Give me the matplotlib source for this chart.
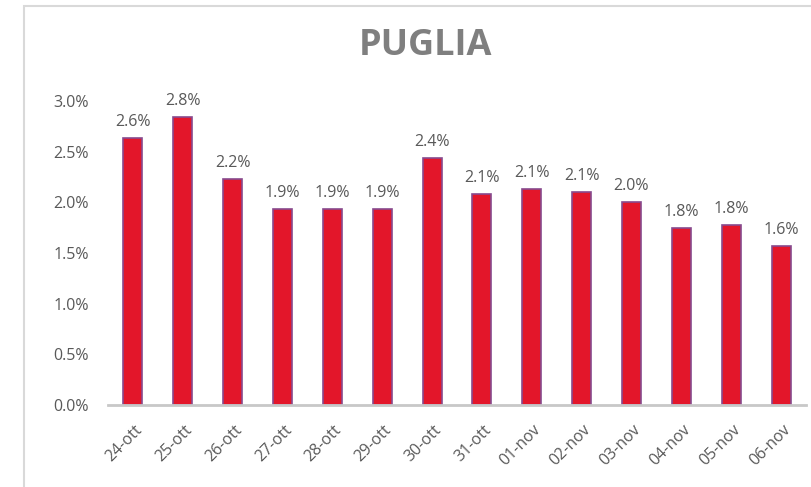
import numpy as np
import matplotlib
matplotlib.use("Agg")
import matplotlib.pyplot as plt
import matplotlib.transforms as mtransforms
from matplotlib.patches import Rectangle

days = ["24-ott", "25-ott", "26-ott", "27-ott", "28-ott", "29-ott", "30-ott",
        "31-ott", "01-nov", "02-nov", "03-nov", "04-nov", "05-nov", "06-nov"]
values = [2.63, 2.84, 2.23, 1.93, 1.93, 1.93, 2.44,
          2.08, 2.13, 2.10, 2.00, 1.75, 1.78, 1.57]

plt.rcParams["font.family"] = ["Open Sans", "DejaVu Sans"]
grey = "#595959"

fig = plt.figure(figsize=(8.11, 4.87), dpi=100)
ax = fig.add_axes([108 / 811, (487 - 405) / 487, (806 - 108) / 811, 304 / 487])

x = np.arange(len(days))
ax.bar(x, values, width=0.38, color="#e3162a", edgecolor="#874a8e", linewidth=1.2)
for xi, v in zip(x, values):
    ax.text(xi, v + 0.08, f"{v:.1f}%", ha="center", va="bottom", fontsize=11.5,
            color=grey, clip_on=False)

ax.set_ylim(0, 3.0)
ax.set_xlim(-0.5, len(days) - 0.5)
yt = np.arange(0, 3.01, 0.5)
ax.set_yticks(yt)
ax.set_yticklabels([f"{t:.1f}%" for t in yt])
ax.set_xticks(x)
ax.set_xticklabels(days, rotation=45, ha="right", va="center", rotation_mode="anchor")
ax.tick_params(axis="both", length=0, colors=grey, labelsize=11.5)
ax.tick_params(axis="y", pad=14)
ax.tick_params(axis="x", pad=16)
shift = mtransforms.ScaledTranslation(7 / 100, 0, fig.dpi_scale_trans)
for lab in ax.get_xticklabels():
    lab.set_transform(lab.get_transform() + shift)
for s in ["top", "right", "left"]:
    ax.spines[s].set_visible(False)
ax.spines["bottom"].set_color("#c8c8c8")
ax.spines["bottom"].set_linewidth(2)

fig.text(425 / 811, (487 - 46) / 487, "PUGLIA", ha="center", va="center",
         fontsize=26, fontweight="bold", color="#7f7f7f")

# chart frame, cropped at the right and bottom edges
fig.patches.append(Rectangle((24 / 811, -0.05), 1.2, (487 - 6) / 487 + 0.05,
                             transform=fig.transFigure, fill=False,
                             edgecolor="#d9d9d9", linewidth=1.5))

fig.savefig("out.png", dpi=100)
